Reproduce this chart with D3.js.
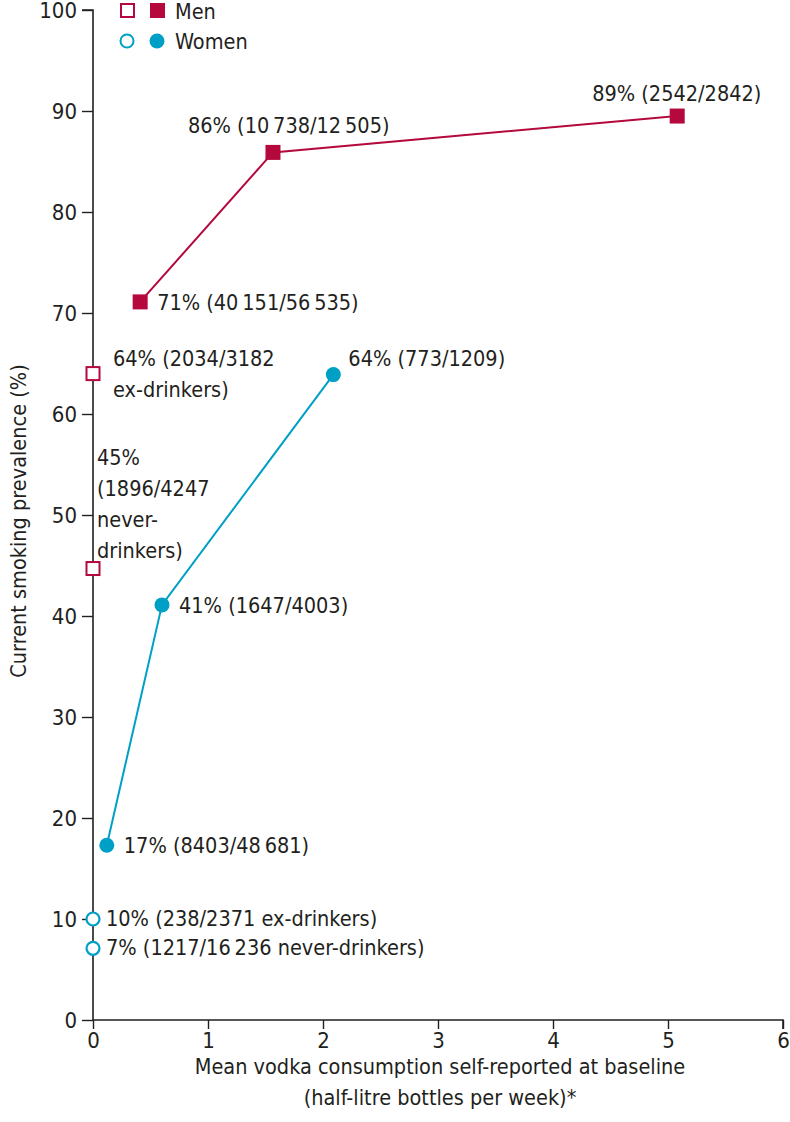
<!DOCTYPE html>
<html>
<head>
<meta charset="utf-8">
<script src="https://cdn.jsdelivr.net/npm/d3@7"></script>
<style>
  body { margin: 0; background: #fff; }
  text { font-family: "Liberation Sans Narrow", "DejaVu Sans Condensed", sans-serif; fill: #231f20; }
</style>
</head>
<body>
<svg width="790" height="1122"></svg>
<script>
// data
const xTicks = [0, 1, 2, 3, 4, 5, 6];
const yTicks = [0, 10, 20, 30, 40, 50, 60, 70, 80, 90, 100];

const menX = [0.41, 1.565, 5.08];
const menY = [71.1, 85.9, 89.5];
const menLabels = ["71% (40\u2009151/56\u2009535)", "86% (10\u2009738/12\u2009505)", "89% (2542/2842)"];
const menRefY = [64.0, 44.7];          // ex-drinkers, never-drinkers at x = 0

const womenX = [0.12, 0.60, 2.09];
const womenY = [17.3, 41.1, 63.9];
const womenLabels = ["17% (8403/48\u2009681)", "41% (1647/4003)", "64% (773/1209)"];
const womenRefY = [10.0, 7.1];
const womenRefLabels = ["10% (238/2371 ex-drinkers)", "7% (1217/16\u2009236 never-drinkers)"];

const menColor = "#b5083c", womenColor = "#00a0c6";
const fs = "21.5px";

const svg = d3.select("svg"),
      margin = {top: 10, left: 93},
      width = 690,
      height = 1010,
      g = svg.append("g").attr("transform", `translate(${margin.left},${margin.top})`);

const x = d3.scaleLinear().domain([0, 6]).range([0, width]);
const y = d3.scaleLinear().domain([0, 100]).range([height, 0]);

// axes
const xAxis = g.append("g")
  .attr("transform", `translate(0,${height})`)
  .call(d3.axisBottom(x).tickValues(xTicks).tickSize(9).tickPadding(3).tickFormat(d3.format("d")));
const yAxis = g.append("g")
  .call(d3.axisLeft(y).tickValues(yTicks).tickSize(11).tickPadding(5).tickFormat(d3.format("d")));
[xAxis, yAxis].forEach(a => {
  a.select(".domain").attr("stroke", "#231f20").attr("stroke-width", 1.6);
  a.selectAll(".tick line").attr("stroke", "#231f20").attr("stroke-width", 1.4);
  a.selectAll("text").style("font-size", "22px").attr("fill", "#231f20")
    .style("font-family", "'Liberation Sans Narrow', 'DejaVu Sans Condensed', sans-serif");
});
yAxis.select(".domain").attr("d", `M-11,${y(100)}H0V${height}`);
xAxis.select(".domain").attr("d", `M0,0H${width}V9`);
yAxis.selectAll(".tick text").attr("dy", "0.36em");

svg.append("text")
  .attr("transform", "rotate(-90)")
  .attr("x", -521)
  .attr("y", 26)
  .attr("text-anchor", "middle")
  .style("font-size", fs)
  .text("Current smoking prevalence (%)");

svg.append("text")
  .attr("x", 440).attr("y", 1074)
  .attr("text-anchor", "middle")
  .style("font-size", fs)
  .text("Mean vodka consumption self-reported at baseline");
svg.append("text")
  .attr("x", 440).attr("y", 1105)
  .attr("text-anchor", "middle")
  .style("font-size", fs)
  .text("(half-litre bottles per week)*");

// lines
const line = d3.line().x(d => x(d[0])).y(d => y(d[1]));
const menPts = d3.zip(menX, menY), womenPts = d3.zip(womenX, womenY);
g.append("path").datum(menPts).attr("d", line).attr("fill", "none")
  .attr("stroke", menColor).attr("stroke-width", 2);
g.append("path").datum(womenPts).attr("d", line).attr("fill", "none")
  .attr("stroke", womenColor).attr("stroke-width", 2);

const sq = 15, r = 7.5;

// men markers
g.selectAll("rect.menFill").data(menPts).join("rect")
  .attr("x", d => x(d[0]) - sq / 2).attr("y", d => y(d[1]) - sq / 2)
  .attr("width", sq).attr("height", sq).attr("fill", menColor);
g.selectAll("rect.menOpen").data(menRefY).join("rect")
  .attr("x", x(0) - sq / 2 + 1).attr("y", d => y(d) - sq / 2 + 1)
  .attr("width", sq - 2).attr("height", sq - 2)
  .attr("fill", "#fff").attr("stroke", menColor).attr("stroke-width", 2);

// women markers
g.selectAll("circle.womenFill").data(womenPts).join("circle")
  .attr("cx", d => x(d[0])).attr("cy", d => y(d[1])).attr("r", r).attr("fill", womenColor);
g.selectAll("circle.womenOpen").data(womenRefY).join("circle")
  .attr("cx", x(0)).attr("cy", d => y(d)).attr("r", r - 1)
  .attr("fill", "#fff").attr("stroke", womenColor).attr("stroke-width", 2.2);

// point labels
const labelOffsets = {
  men: [[17, 8], [-85, -19], [-85, -15]],
  women: [[17, 8], [17, 8], [15, -9]]
};
menPts.forEach((p, i) => {
  g.append("text")
    .attr("x", x(p[0]) + labelOffsets.men[i][0])
    .attr("y", y(p[1]) + labelOffsets.men[i][1])
    .style("font-size", fs)
    .text(menLabels[i]);
});
womenPts.forEach((p, i) => {
  g.append("text")
    .attr("x", x(p[0]) + labelOffsets.women[i][0])
    .attr("y", y(p[1]) + labelOffsets.women[i][1])
    .style("font-size", fs)
    .text(womenLabels[i]);
});

// men reference labels (multi-line)
const menRefLines = [
  ["64% (2034/3182", "ex-drinkers)"],
  ["45%", "(1896/4247", "never-", "drinkers)"]
];
const menRefPos = [[20, y(menRefY[0]) - 8], [4, y(menRefY[1]) - 104]];
menRefLines.forEach((lines, i) => {
  const t = g.append("text")
    .attr("x", menRefPos[i][0]).attr("y", menRefPos[i][1])
    .style("font-size", fs);
  lines.forEach((s, j) => {
    t.append("tspan").attr("x", menRefPos[i][0]).attr("dy", j ? 31 : 0).text(s);
  });
});

womenRefY.forEach((v, i) => {
  g.append("text")
    .attr("x", 13).attr("y", y(v) + 7)
    .style("font-size", fs)
    .text(womenRefLabels[i]);
});

// legend
const legend = svg.append("g");
legend.append("rect").attr("x", 121).attr("y", 4).attr("width", 13).attr("height", 13)
  .attr("fill", "#fff").attr("stroke", menColor).attr("stroke-width", 2);
legend.append("rect").attr("x", 150).attr("y", 3).attr("width", 15).attr("height", 15)
  .attr("fill", menColor);
legend.append("text").attr("x", 175).attr("y", 19).style("font-size", fs).text("Men");
legend.append("circle").attr("cx", 127).attr("cy", 41).attr("r", 6.5)
  .attr("fill", "#fff").attr("stroke", womenColor).attr("stroke-width", 2);
legend.append("circle").attr("cx", 157).attr("cy", 41).attr("r", 7.5).attr("fill", womenColor);
legend.append("text").attr("x", 175).attr("y", 49).style("font-size", fs).text("Women");
</script>
</body>
</html>
